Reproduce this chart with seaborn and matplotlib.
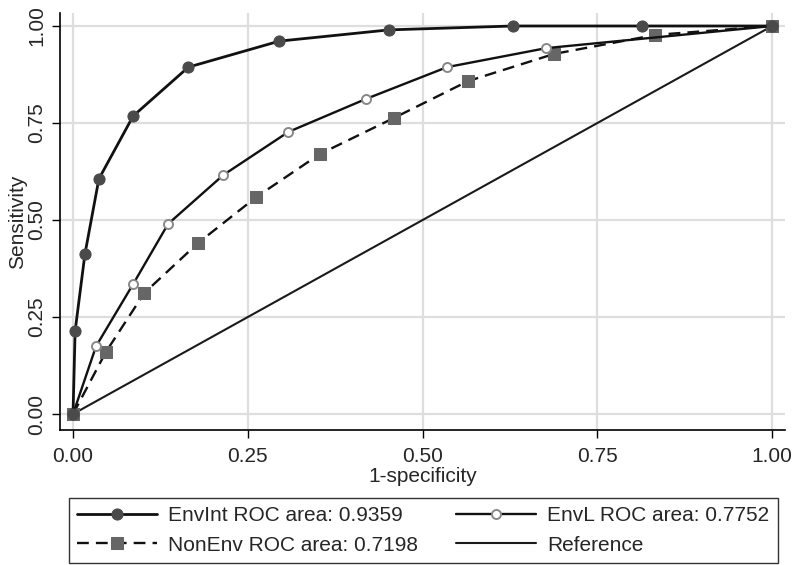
import pandas as pd
import matplotlib.pyplot as plt
import seaborn as sns

# ROC points (1-specificity, sensitivity)
envint_x = [0.0, 0.003, 0.017, 0.037, 0.086, 0.165, 0.295, 0.452, 0.629, 0.814, 1.0]
envint_y = [0.0, 0.214, 0.412, 0.606, 0.768, 0.894, 0.961, 0.990, 1.0, 1.0, 1.0]

envl_x = [0.0, 0.033, 0.086, 0.136, 0.215, 0.308, 0.419, 0.535, 0.677, 1.0]
envl_y = [0.0, 0.175, 0.335, 0.490, 0.616, 0.727, 0.812, 0.894, 0.943, 1.0]

nonenv_x = [0.0, 0.047, 0.102, 0.179, 0.262, 0.353, 0.459, 0.565, 0.688, 0.833, 1.0]
nonenv_y = [0.0, 0.160, 0.312, 0.441, 0.559, 0.670, 0.763, 0.858, 0.928, 0.977, 1.0]

ref_x = [0.0, 1.0]
ref_y = [0.0, 1.0]

labels = ["EnvInt ROC area: 0.9359", "EnvL ROC area: 0.7752",
          "NonEnv ROC area: 0.7198", "Reference"]
ticks = [0.0, 0.25, 0.5, 0.75, 1.0]
tick_labels = ["0.00", "0.25", "0.50", "0.75", "1.00"]

sns.set_theme(style="white")
plt.rcParams["font.family"] = ["Liberation Sans", "DejaVu Sans"]
plt.rcParams["font.size"] = 15

fig = plt.figure(figsize=(7.96, 5.65), dpi=100)
ax = fig.add_axes([0.0754, 0.239, 0.911, 0.738])

ax.grid(True, color="#dedede", linewidth=1.6)
ax.set_axisbelow(True)

sns.lineplot(x=ref_x, y=ref_y, ax=ax, color="#1a1a1a", linewidth=1.5,
             label=labels[3], zorder=2)
sns.lineplot(x=nonenv_x, y=nonenv_y, ax=ax, color="#111111", linewidth=1.7,
             linestyle=(0, (5, 3)), marker="s", markersize=8,
             markerfacecolor="#666666", markeredgecolor="#666666",
             label=labels[2], zorder=3)
sns.lineplot(x=envl_x, y=envl_y, ax=ax, color="#111111", linewidth=1.7,
             marker="o", markersize=6.5, markerfacecolor="white",
             markeredgecolor="#888888", markeredgewidth=1.4,
             label=labels[1], zorder=4)
sns.lineplot(x=envint_x, y=envint_y, ax=ax, color="#111111", linewidth=2.0,
             marker="o", markersize=8, markerfacecolor="#4a4a4a",
             markeredgecolor="#4a4a4a", label=labels[0], zorder=5)

ax.set_xlim(-0.0186, 1.0186)
ax.set_ylim(-0.041, 1.0335)
ax.set_xticks(ticks)
ax.set_xticklabels(tick_labels)
ax.set_yticks(ticks)
ax.set_yticklabels(tick_labels, rotation=90, va="center")
ax.tick_params(axis="both", direction="out", length=6, width=1, color="black",
               labelsize=15, bottom=True, left=True)
ax.tick_params(axis="x", pad=6)
ax.tick_params(axis="y", pad=4)
ax.set_xlabel("1-specificity", fontsize=15, labelpad=1)
ax.set_ylabel("Sensitivity", fontsize=15, labelpad=0)

sns.despine(ax=ax)
for side in ["left", "bottom"]:
    ax.spines[side].set_color("black")
    ax.spines[side].set_linewidth(1.2)

handles, labs = ax.get_legend_handles_labels()
ax.get_legend().remove()
order = [labs.index(labels[0]), labs.index(labels[2]),
         labs.index(labels[1]), labs.index(labels[3])]
leg = fig.legend([handles[i] for i in order], [labs[i] for i in order],
                 ncol=2, loc="lower right", bbox_to_anchor=(0.977, 0.0035),
                 frameon=True, fancybox=False, edgecolor="black",
                 fontsize=15, handlelength=3.85, handletextpad=0.53,
                 columnspacing=1.8, borderaxespad=0, labelspacing=0.5,
                 borderpad=0.4)
leg.get_frame().set_linewidth(1.0)

fig.savefig("out.png", dpi=100)
